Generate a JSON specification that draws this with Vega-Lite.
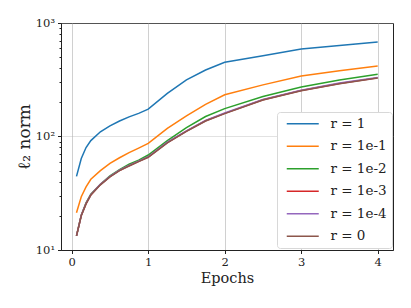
{
  "$schema": "https://vega.github.io/schema/vega-lite/v6.json",
  "width": 332,
  "height": 227,
  "autosize": {"type": "none"},
  "padding": {"left": 61, "top": 23, "right": 18, "bottom": 58},
  "background": "white",
  "config": {
    "font": "DejaVu Serif",
    "view": {"stroke": "#222", "strokeWidth": 1},
    "axis": {
      "domainColor": "#222",
      "tickColor": "#222",
      "labelColor": "#222",
      "titleColor": "#222",
      "labelFont": "DejaVu Serif",
      "titleFont": "DejaVu Serif",
      "labelFontSize": 11.5,
      "titleFontSize": 14.5,
      "titleFontWeight": "normal",
      "gridColor": "#b0b0b0",
      "gridOpacity": 0.6,
      "gridWidth": 1,
      "tickSize": 3.5
    },
    "legend": {
      "orient": "none",
      "legendX": 216,
      "legendY": 89,
      "fillColor": "white",
      "strokeColor": "#d8d8d8",
      "cornerRadius": 3,
      "padding": 5,
      "labelFont": "DejaVu Serif",
      "labelFontSize": 13.5,
      "labelColor": "#222",
      "symbolType": "M-3.2,0H3.2",
      "symbolSize": 100,
      "symbolStrokeWidth": 1.5,
      "symbolOffset": 14,
      "rowPadding": 7.5,
      "labelOffset": 21
    }
  },
  "data": {
    "values": [
      {"epoch": 0.0625, "r": "r = 1", "norm": 44.5},
      {"epoch": 0.125, "r": "r = 1", "norm": 64},
      {"epoch": 0.1875, "r": "r = 1", "norm": 80},
      {"epoch": 0.25, "r": "r = 1", "norm": 92},
      {"epoch": 0.375, "r": "r = 1", "norm": 110},
      {"epoch": 0.5, "r": "r = 1", "norm": 124},
      {"epoch": 0.625, "r": "r = 1", "norm": 137},
      {"epoch": 0.75, "r": "r = 1", "norm": 149},
      {"epoch": 0.875, "r": "r = 1", "norm": 160},
      {"epoch": 1.0, "r": "r = 1", "norm": 174},
      {"epoch": 1.25, "r": "r = 1", "norm": 240},
      {"epoch": 1.5, "r": "r = 1", "norm": 315},
      {"epoch": 1.75, "r": "r = 1", "norm": 385},
      {"epoch": 2.0, "r": "r = 1", "norm": 451},
      {"epoch": 2.5, "r": "r = 1", "norm": 515},
      {"epoch": 3.0, "r": "r = 1", "norm": 590},
      {"epoch": 3.5, "r": "r = 1", "norm": 635},
      {"epoch": 4.0, "r": "r = 1", "norm": 681},

      {"epoch": 0.0625, "r": "r = 1e-1", "norm": 21.3},
      {"epoch": 0.125, "r": "r = 1e-1", "norm": 29.5},
      {"epoch": 0.1875, "r": "r = 1e-1", "norm": 36},
      {"epoch": 0.25, "r": "r = 1e-1", "norm": 42},
      {"epoch": 0.375, "r": "r = 1e-1", "norm": 50},
      {"epoch": 0.5, "r": "r = 1e-1", "norm": 58},
      {"epoch": 0.625, "r": "r = 1e-1", "norm": 65},
      {"epoch": 0.75, "r": "r = 1e-1", "norm": 72},
      {"epoch": 0.875, "r": "r = 1e-1", "norm": 79},
      {"epoch": 1.0, "r": "r = 1e-1", "norm": 87},
      {"epoch": 1.25, "r": "r = 1e-1", "norm": 118},
      {"epoch": 1.5, "r": "r = 1e-1", "norm": 152},
      {"epoch": 1.75, "r": "r = 1e-1", "norm": 192},
      {"epoch": 2.0, "r": "r = 1e-1", "norm": 233},
      {"epoch": 2.5, "r": "r = 1e-1", "norm": 285},
      {"epoch": 3.0, "r": "r = 1e-1", "norm": 341},
      {"epoch": 3.5, "r": "r = 1e-1", "norm": 380},
      {"epoch": 4.0, "r": "r = 1e-1", "norm": 418},

      {"epoch": 0.0625, "r": "r = 1e-2", "norm": 13.3},
      {"epoch": 0.125, "r": "r = 1e-2", "norm": 20.3},
      {"epoch": 0.1875, "r": "r = 1e-2", "norm": 26},
      {"epoch": 0.25, "r": "r = 1e-2", "norm": 31},
      {"epoch": 0.375, "r": "r = 1e-2", "norm": 38},
      {"epoch": 0.5, "r": "r = 1e-2", "norm": 45},
      {"epoch": 0.625, "r": "r = 1e-2", "norm": 51},
      {"epoch": 0.75, "r": "r = 1e-2", "norm": 57},
      {"epoch": 0.875, "r": "r = 1e-2", "norm": 62},
      {"epoch": 1.0, "r": "r = 1e-2", "norm": 68.7},
      {"epoch": 1.25, "r": "r = 1e-2", "norm": 92},
      {"epoch": 1.5, "r": "r = 1e-2", "norm": 120},
      {"epoch": 1.75, "r": "r = 1e-2", "norm": 150},
      {"epoch": 2.0, "r": "r = 1e-2", "norm": 176},
      {"epoch": 2.5, "r": "r = 1e-2", "norm": 225},
      {"epoch": 3.0, "r": "r = 1e-2", "norm": 273},
      {"epoch": 3.5, "r": "r = 1e-2", "norm": 315},
      {"epoch": 4.0, "r": "r = 1e-2", "norm": 353},

      {"epoch": 0.0625, "r": "r = 1e-3", "norm": 13.3},
      {"epoch": 0.125, "r": "r = 1e-3", "norm": 20.1},
      {"epoch": 0.1875, "r": "r = 1e-3", "norm": 25.6},
      {"epoch": 0.25, "r": "r = 1e-3", "norm": 30.6},
      {"epoch": 0.375, "r": "r = 1e-3", "norm": 37.7},
      {"epoch": 0.5, "r": "r = 1e-3", "norm": 44.2},
      {"epoch": 0.625, "r": "r = 1e-3", "norm": 50.2},
      {"epoch": 0.75, "r": "r = 1e-3", "norm": 55.3},
      {"epoch": 0.875, "r": "r = 1e-3", "norm": 60.3},
      {"epoch": 1.0, "r": "r = 1e-3", "norm": 65.9},
      {"epoch": 1.25, "r": "r = 1e-3", "norm": 88.4},
      {"epoch": 1.5, "r": "r = 1e-3", "norm": 111.6},
      {"epoch": 1.75, "r": "r = 1e-3", "norm": 137.7},
      {"epoch": 2.0, "r": "r = 1e-3", "norm": 159.8},
      {"epoch": 2.5, "r": "r = 1e-3", "norm": 211},
      {"epoch": 3.0, "r": "r = 1e-3", "norm": 254},
      {"epoch": 3.5, "r": "r = 1e-3", "norm": 293.5},
      {"epoch": 4.0, "r": "r = 1e-3", "norm": 328.5},

      {"epoch": 0.0625, "r": "r = 1e-4", "norm": 13.3},
      {"epoch": 0.125, "r": "r = 1e-4", "norm": 20.2},
      {"epoch": 0.1875, "r": "r = 1e-4", "norm": 25.8},
      {"epoch": 0.25, "r": "r = 1e-4", "norm": 30.8},
      {"epoch": 0.375, "r": "r = 1e-4", "norm": 37.9},
      {"epoch": 0.5, "r": "r = 1e-4", "norm": 44.5},
      {"epoch": 0.625, "r": "r = 1e-4", "norm": 50.5},
      {"epoch": 0.75, "r": "r = 1e-4", "norm": 55.6},
      {"epoch": 0.875, "r": "r = 1e-4", "norm": 60.7},
      {"epoch": 1.0, "r": "r = 1e-4", "norm": 66.3},
      {"epoch": 1.25, "r": "r = 1e-4", "norm": 89},
      {"epoch": 1.5, "r": "r = 1e-4", "norm": 112.3},
      {"epoch": 1.75, "r": "r = 1e-4", "norm": 138.6},
      {"epoch": 2.0, "r": "r = 1e-4", "norm": 161},
      {"epoch": 2.5, "r": "r = 1e-4", "norm": 212.5},
      {"epoch": 3.0, "r": "r = 1e-4", "norm": 256},
      {"epoch": 3.5, "r": "r = 1e-4", "norm": 295.5},
      {"epoch": 4.0, "r": "r = 1e-4", "norm": 331},

      {"epoch": 0.0625, "r": "r = 0", "norm": 13.3},
      {"epoch": 0.125, "r": "r = 0", "norm": 20},
      {"epoch": 0.1875, "r": "r = 0", "norm": 25.5},
      {"epoch": 0.25, "r": "r = 0", "norm": 30.5},
      {"epoch": 0.375, "r": "r = 0", "norm": 37.5},
      {"epoch": 0.5, "r": "r = 0", "norm": 44},
      {"epoch": 0.625, "r": "r = 0", "norm": 50},
      {"epoch": 0.75, "r": "r = 0", "norm": 55},
      {"epoch": 0.875, "r": "r = 0", "norm": 60},
      {"epoch": 1.0, "r": "r = 0", "norm": 65.6},
      {"epoch": 1.25, "r": "r = 0", "norm": 88},
      {"epoch": 1.5, "r": "r = 0", "norm": 111},
      {"epoch": 1.75, "r": "r = 0", "norm": 137},
      {"epoch": 2.0, "r": "r = 0", "norm": 159},
      {"epoch": 2.5, "r": "r = 0", "norm": 210},
      {"epoch": 3.0, "r": "r = 0", "norm": 253},
      {"epoch": 3.5, "r": "r = 0", "norm": 292},
      {"epoch": 4.0, "r": "r = 0", "norm": 327}
    ]
  },
  "mark": {"type": "line", "strokeWidth": 1.5, "clip": true},
  "encoding": {
    "x": {
      "field": "epoch",
      "type": "quantitative",
      "scale": {"domain": [-0.14, 4.2], "nice": false, "zero": false},
      "axis": {"values": [0, 1, 2, 3, 4], "format": "d", "title": "Epochs", "titlePadding": 3, "labelPadding": 3}
    },
    "y": {
      "field": "norm",
      "type": "quantitative",
      "scale": {"type": "log", "domain": [10, 1000], "nice": false},
      "axis": {
        "values": [10, 20, 30, 40, 50, 60, 70, 80, 90, 100, 200, 300, 400, 500, 600, 700, 800, 900, 1000],
        "labelExpr": "datum.value == 10 ? '10¹' : datum.value == 100 ? '10²' : datum.value == 1000 ? '10³' : ''",
        "tickSize": {"condition": {"test": "datum.value == 10 || datum.value == 100 || datum.value == 1000", "value": 3.5}, "value": 2},
        "gridOpacity": {"condition": {"test": "datum.value == 10 || datum.value == 100 || datum.value == 1000", "value": 0.6}, "value": 0},
        "title": "ℓ₂ norm",
        "titleFontSize": 17,
        "titlePadding": 2,
        "labelPadding": 3
      }
    },
    "color": {
      "field": "r",
      "type": "nominal",
      "sort": ["r = 1", "r = 1e-1", "r = 1e-2", "r = 1e-3", "r = 1e-4", "r = 0"],
      "scale": {
        "domain": ["r = 1", "r = 1e-1", "r = 1e-2", "r = 1e-3", "r = 1e-4", "r = 0"],
        "range": ["#1f77b4", "#ff7f0e", "#2ca02c", "#d62728", "#9467bd", "#8c564b"]
      },
      "legend": {"title": null}
    },
    "order": {"field": "epoch", "type": "quantitative"}
  }
}
